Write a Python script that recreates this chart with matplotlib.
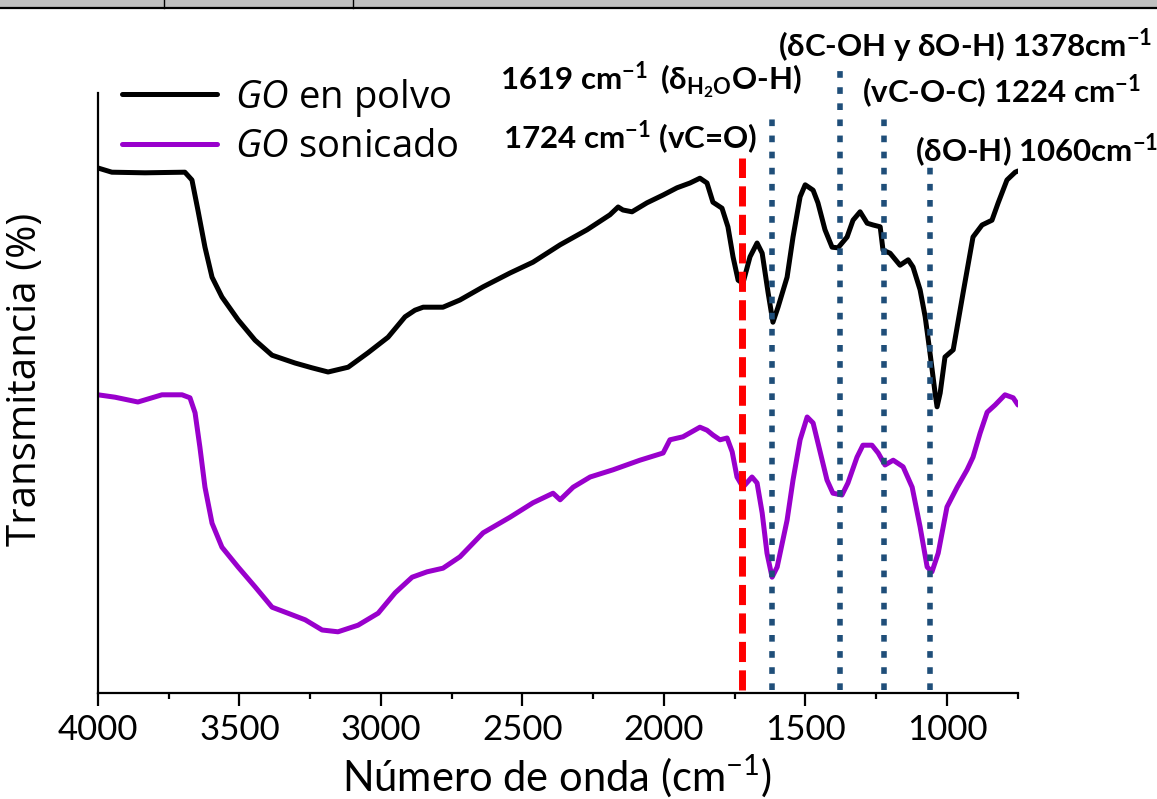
import matplotlib
matplotlib.use('Agg')
import matplotlib.pyplot as plt
from matplotlib.patches import Rectangle
from matplotlib.lines import Line2D
from matplotlib.ticker import MultipleLocator

plt.rcParams['font.family'] = ['Lato', 'DejaVu Sans']
plt.rcParams['mathtext.fontset'] = 'custom'
plt.rcParams['mathtext.rm'] = 'Lato'
plt.rcParams['mathtext.it'] = 'Open Sans:italic'
plt.rcParams['mathtext.bf'] = 'Lato:bold'

# GO en polvo (numero de onda, transmitancia)
wn_polvo = [4000, 3951, 3834, 3693, 3668, 3647, 3622, 3597, 3562, 3505, 3445, 3385,
            3304, 3244, 3187, 3116, 3046, 2975, 2915, 2880, 2851, 2781, 2721, 2639,
            2544, 2463, 2367, 2272, 2191, 2162, 2145, 2113, 2060, 2003, 1954, 1908,
            1873, 1848, 1827, 1795, 1774, 1756, 1738, 1721, 1696, 1671, 1653, 1632,
            1615, 1597, 1565, 1544, 1519, 1501, 1473, 1456, 1431, 1406, 1385, 1353,
            1332, 1307, 1282, 1261, 1236, 1226, 1201, 1166, 1137, 1120, 1095, 1077,
            1060, 1042, 1035, 1024, 1007, 978, 943, 908, 876, 841, 819, 788, 759, 749]
t_polvo = [87.5, 86.8, 86.7, 86.8, 85.5, 80.5, 74.3, 69.3, 66.0, 62.2, 58.8, 56.3,
           55.0, 54.2, 53.5, 54.3, 56.7, 59.3, 62.7, 63.8, 64.3, 64.3, 65.5, 67.7,
           70.0, 71.8, 74.7, 77.2, 79.7, 81.0, 80.5, 80.2, 81.7, 83.0, 84.2, 85.0,
           85.8, 85.0, 81.8, 80.8, 77.7, 72.7, 68.8, 68.3, 72.7, 75.0, 73.3, 66.7,
           61.8, 64.3, 69.3, 76.0, 82.7, 84.7, 83.8, 81.7, 77.2, 74.3, 74.2, 76.0,
           78.8, 80.2, 78.3, 78.0, 77.7, 73.8, 73.3, 71.3, 72.2, 71.0, 67.2, 62.7,
           56.7, 50.0, 47.7, 50.0, 56.0, 57.2, 66.7, 76.0, 78.0, 78.8, 81.7, 85.5, 86.8, 87.0]

# GO sonicado
wn_son = [4000, 3940, 3859, 3774, 3703, 3675, 3657, 3640, 3622, 3597, 3562, 3505,
          3445, 3385, 3329, 3268, 3208, 3152, 3081, 3010, 2950, 2890, 2837, 2781,
          2721, 2639, 2544, 2463, 2392, 2367, 2321, 2261, 2180, 2085, 2003, 1979,
          1933, 1873, 1848, 1827, 1802, 1777, 1759, 1742, 1721, 1689, 1671, 1653,
          1636, 1618, 1600, 1565, 1544, 1519, 1494, 1473, 1456, 1424, 1403, 1371,
          1350, 1318, 1297, 1265, 1243, 1219, 1190, 1155, 1123, 1095, 1070, 1053,
          1031, 1000, 964, 929, 908, 883, 858, 830, 795, 766, 749]
t_son = [49.7, 49.3, 48.5, 49.7, 49.7, 49.2, 46.7, 41.0, 34.3, 28.3, 24.3, 21.0,
         17.7, 14.3, 13.3, 12.2, 10.5, 10.2, 11.3, 13.3, 16.7, 19.3, 20.2, 20.8,
         22.7, 26.7, 29.3, 31.7, 33.3, 32.2, 34.3, 36.0, 37.2, 38.8, 40.0, 42.2,
         42.7, 44.3, 43.8, 43.0, 42.2, 42.5, 40.2, 36.0, 34.3, 36.0, 35.0, 30.0,
         23.3, 19.3, 21.0, 28.8, 35.5, 42.2, 46.0, 45.0, 41.7, 35.5, 33.3, 33.0,
         35.0, 39.3, 41.3, 41.3, 40.0, 38.0, 38.8, 37.7, 34.3, 27.7, 21.0, 20.2,
         23.3, 31.0, 34.3, 37.2, 39.3, 43.3, 46.8, 48.0, 49.7, 49.2, 48.0]

# bandas marcadas
banda_co = 1724
bandas = [1619, 1378, 1224, 1060]
bandas_top = [96.3, 104.7, 95.8, 88.8]

W, H = 1157, 799
fig = plt.figure(figsize=(W / 100, H / 100), dpi=100)
ax = fig.add_axes([98 / W, 1 - 693 / H, 920 / W, 600 / H])

ax.plot(wn_polvo, t_polvo, color='black', lw=3.6, solid_capstyle='round',
        label=r'$\it{GO}$ en polvo')
ax.plot(wn_son, t_son, color='#9900cc', lw=3.6, solid_capstyle='round',
        label=r'$\it{GO}$ sonicado')

ax.vlines(banda_co, 0.5, 89.2, colors='#ff0000', lw=5, linestyles=(0, (2.9, 1.2)))
for b, top in zip(bandas, bandas_top):
    ax.vlines(b, 0.5, top, colors='#1f4e79', lw=4, linestyles=(0, (1.2, 1.7)),
              clip_on=False)

ax.set_xlim(4000, 749)
ax.set_ylim(0, 100)
ax.xaxis.set_major_locator(MultipleLocator(500))
ax.xaxis.set_minor_locator(MultipleLocator(250))
ax.set_yticks([])
for s in ['top', 'right']:
    ax.spines[s].set_visible(False)
for s in ['left', 'bottom']:
    ax.spines[s].set_linewidth(1.6)
ax.tick_params(axis='x', which='major', length=9, width=1.6, pad=6, labelsize=25)
ax.tick_params(axis='x', which='minor', length=4.5, width=1.6)

ax.set_xlabel('Número de onda (cm$^{-1}$)', fontsize=30, va='top')
ax.xaxis.set_label_coords(0.499, -0.1)
ax.set_ylabel('Transmitancia (%)', fontsize=29, family='Open Sans')
ax.yaxis.set_label_coords(-0.056, 0.522)

leg = ax.legend(loc='upper left', bbox_to_anchor=(24 / 920, 1.027), frameon=False,
                handlelength=2.5, handletextpad=0.45, labelspacing=0.25,
                borderaxespad=0, borderpad=0,
                prop={'family': 'Open Sans', 'size': 27.5})


def ftext(x, y, s, **kw):
    fig.text(x / W, 1 - y / H, s, fontsize=22.5, fontweight='bold', va='baseline', **kw)


ftext(778, 57, r'(δC-OH y δO-H) 1378cm$^{\mathbf{-1}}$')
ftext(500, 90, r'1619 cm$^{\mathbf{-1}}$')
ftext(660, 90, r'(δ$_{\mathbf{H_2O}}$O-H)')
ftext(862, 104, r'(vC-O-C) 1224 cm$^{\mathbf{-1}}$')
ftext(503, 150, r'1724 cm$^{\mathbf{-1}}$ (vC=O)')
ftext(915, 163, r'(δO-H) 1060cm$^{\mathbf{-1}}$')

# franja superior
fig.add_artist(Rectangle((0, 1 - 7 / H), 1, 7 / H, color='#c0c0c0',
                         transform=fig.transFigure, lw=0))
fig.add_artist(Line2D([0, 1], [1 - 8 / H, 1 - 8 / H], color='black', lw=1.6,
                      transform=fig.transFigure))
for xd in [164, 353]:
    fig.add_artist(Line2D([xd / W, xd / W], [1, 1 - 8 / H], color='black', lw=1,
                          transform=fig.transFigure))

plt.savefig('out.png', dpi=100)
